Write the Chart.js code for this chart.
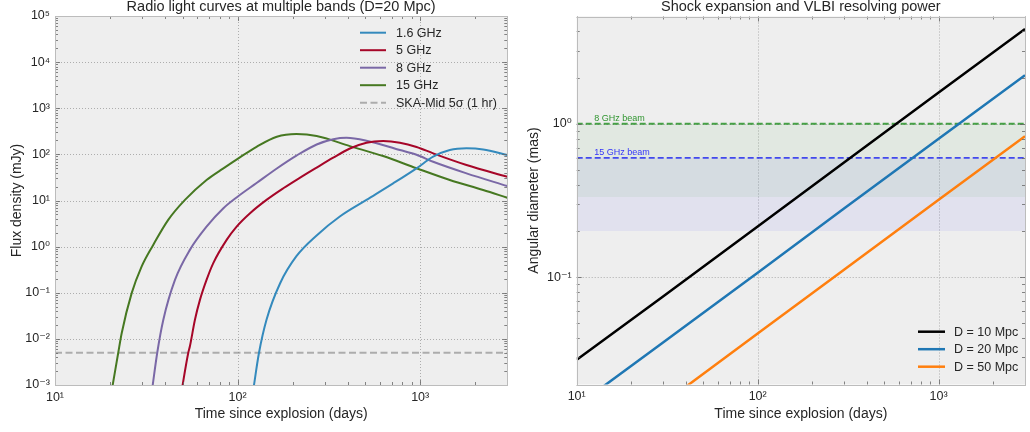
<!DOCTYPE html>
<html>
<head>
<meta charset="utf-8">
<script src="https://cdn.jsdelivr.net/npm/chart.js@4.4.0/dist/chart.umd.min.js"></script>
<style>
  body { margin: 0; background: #fff; width: 1030px; height: 432px; overflow: hidden; position: relative; }
  canvas { position: absolute; top: 0; }
  #lightCurves { left: 0; }
  #vlbi { left: 515px; }
</style>
</head>
<body>
<canvas id="lightCurves" width="515" height="432"></canvas>
<canvas id="vlbi" width="515" height="432"></canvas>
<script>
// ---- light curves (days, mJy) ----
const t16 = [120, 123, 131, 144, 171, 210, 271, 363, 508, 711, 955, 1178, 1453, 1793, 2213, 3000];
const f16 = [0.0005, 0.001, 0.005, 0.026, 0.161, 0.62, 1.75, 4.5, 10.3, 23.5, 49.8, 89, 124, 135, 128, 97];

const t5 = [49, 50, 53.7, 54.8, 58.4, 62.2, 67.6, 73.6, 87.1, 98.8, 117, 144, 178, 219, 271, 334, 412, 508, 627, 774, 955, 1178, 1793, 3000];
const f5 = [0.0006, 0.001, 0.005, 0.0069, 0.026, 0.070, 0.19, 0.44, 1.40, 2.72, 5.3, 10.3, 18.4, 31, 51.8, 85, 134, 179, 194, 179, 145, 105, 58.7, 32.7];

const t8 = [33.5, 34.3, 36.3, 39.2, 45.4, 54.8, 67.6, 83.6, 100, 127, 164, 210, 271, 334, 395, 508, 774, 955, 1178, 1793, 3000];
const f8 = [0.0005, 0.001, 0.005, 0.026, 0.19, 0.85, 2.7, 6.8, 12.1, 23.9, 49.5, 94, 164, 213, 229, 198, 124, 98, 69, 38.8, 20.6];

const t15 = [20, 20.7, 22.2, 23.2, 26.3, 29.8, 34.5, 41.7, 51.5, 67.6, 83.6, 101, 127, 164, 210, 271, 412, 627, 955, 1453, 2213, 3000];
const f15 = [0.00046, 0.001, 0.005, 0.0134, 0.098, 0.37, 1.09, 3.8, 10.3, 27.8, 49.8, 82, 146, 241, 275, 250, 151, 92, 50, 27.8, 16.9, 11.5];

const skaDays = [10, 3000];
const skaLevel = 0.005;

// ---- shock size (days, mas) ----
const sizeDays = [10, 30, 100, 300, 1000, 3000];
const d10 = [0.029, 0.075, 0.214, 0.56, 1.60, 4.15];
const d20 = [0.0145, 0.0375, 0.107, 0.28, 0.80, 2.07];
const d50 = [0.0058, 0.015, 0.043, 0.112, 0.32, 0.83];

const beam8 = 1.0, beam8Low = 0.333;
const beam15 = 0.6, beam15Low = 0.2;

// ---- ticks ----
const timeTicks = [10, 100, 1000];
const timeTickLabels = ['10¹', '10²', '10³'];
const fluxTicks = [1e-3, 1e-2, 1e-1, 1, 10, 100, 1e3, 1e4, 1e5];
const fluxTickLabels = ['10⁻³', '10⁻²', '10⁻¹', '10⁰', '10¹', '10²', '10³', '10⁴', '10⁵'];
const sizeTicks = [0.1, 1];
const sizeTickLabels = ['10⁻¹', '10⁰'];

Chart.defaults.font.family = '"Liberation Sans", Arial, "DejaVu Sans", sans-serif';
Chart.defaults.color = '#262626';
Chart.defaults.animation = false;

function isMajor(v) {
  const l = Math.log10(v);
  return Math.abs(l - Math.round(l)) < 1e-6;
}

// 1..9 x 10^n inside the axis range, used for the small tick marks
function logTicks(min, max) {
  const out = [];
  for (let e = Math.floor(Math.log10(min)); e <= Math.ceil(Math.log10(max)); e++) {
    for (let m = 1; m <= 9; m++) {
      const v = Number((m * Math.pow(10, e)).toPrecision(6));
      if (v >= min * (1 - 1e-9) && v <= max * (1 + 1e-9)) out.push({ value: v });
    }
  }
  return out;
}

function pts(xs, ys) {
  return xs.map((x, i) => ({ x: x, y: ys[i] }));
}

function logAxis(pos, min, max, majors, labels, title, size, titlePad) {
  const horiz = pos === 'bottom';
  return {
    type: 'logarithmic',
    position: pos,
    min: min,
    max: max,
    afterBuildTicks: s => { s.ticks = logTicks(min, max); },
    afterFit: s => { if (horiz) s.height = size; else s.width = size; },
    grid: { display: false, drawTicks: false },
    border: { display: false },
    ticks: {
      autoSkip: false,
      maxRotation: 0,
      padding: 5,
      font: { size: 12.5 },
      color: '#262626',
      callback: v => {
        const i = majors.findIndex(m => Math.abs(Math.log10(m) - Math.log10(v)) < 1e-6);
        return i < 0 ? '' : labels[i];
      }
    },
    title: {
      display: true,
      text: title,
      font: { size: 14 },
      color: '#262626',
      padding: horiz ? { top: 0, bottom: titlePad } : { top: titlePad, bottom: 0 }
    }
  };
}

const framePlugin = {
  id: 'frame',
  beforeDraw(chart) {
    const { ctx, chartArea: a } = chart;
    ctx.save();
    ctx.fillStyle = '#eeeeee';
    ctx.fillRect(a.left, a.top, a.right - a.left, a.bottom - a.top);
    ctx.restore();
  },
  beforeDatasetsDraw(chart) {
    const { ctx, chartArea: a, scales } = chart;
    ctx.save();
    ctx.strokeStyle = '#9c9c9c';
    ctx.lineWidth = 0.8;
    ctx.setLineDash([1, 2]);
    scales.x.ticks.forEach(t => {
      if (!isMajor(t.value)) return;
      const p = Math.round(scales.x.getPixelForValue(t.value)) + 0.5;
      if (p < a.left + 2 || p > a.right - 2) return;
      ctx.beginPath(); ctx.moveTo(p, a.top); ctx.lineTo(p, a.bottom); ctx.stroke();
    });
    scales.y.ticks.forEach(t => {
      if (!isMajor(t.value)) return;
      const p = Math.round(scales.y.getPixelForValue(t.value)) + 0.5;
      if (p < a.top + 2 || p > a.bottom - 2) return;
      ctx.beginPath(); ctx.moveTo(a.left, p); ctx.lineTo(a.right, p); ctx.stroke();
    });
    ctx.restore();
  },
  afterDatasetsDraw(chart) {
    const { ctx, chartArea: a, scales } = chart;
    ctx.save();
    ctx.strokeStyle = '#666';
    ctx.lineWidth = 0.8;
    scales.x.ticks.forEach(t => {
      const p = Math.round(scales.x.getPixelForValue(t.value)) + 0.5;
      const len = isMajor(t.value) ? 5 : 3;
      ctx.beginPath();
      ctx.moveTo(p, a.bottom); ctx.lineTo(p, a.bottom - len);
      ctx.moveTo(p, a.top); ctx.lineTo(p, a.top + len);
      ctx.stroke();
    });
    scales.y.ticks.forEach(t => {
      const p = Math.round(scales.y.getPixelForValue(t.value)) + 0.5;
      const len = isMajor(t.value) ? 5 : 3;
      ctx.beginPath();
      ctx.moveTo(a.left, p); ctx.lineTo(a.left + len, p);
      ctx.moveTo(a.right, p); ctx.lineTo(a.right - len, p);
      ctx.stroke();
    });
    ctx.strokeStyle = '#bcbcbc';
    ctx.lineWidth = 1;
    ctx.strokeRect(Math.round(a.left) + 0.5, Math.round(a.top) + 0.5,
      Math.round(a.right - a.left), Math.round(a.bottom - a.top));
    ctx.restore();
  },
  afterDraw(chart, args, opts) {
    const { ctx, chartArea: a, scales } = chart;
    ctx.save();
    // title
    ctx.fillStyle = '#262626';
    ctx.font = '14.5px "Liberation Sans", Arial, sans-serif';
    ctx.textAlign = 'center';
    ctx.textBaseline = 'middle';
    ctx.fillText(opts.title, (a.left + a.right) / 2, 7);
    // annotations
    (opts.notes || []).forEach(n => {
      ctx.font = '9px "Liberation Sans", Arial, sans-serif';
      ctx.fillStyle = n.color;
      ctx.textAlign = 'left';
      ctx.textBaseline = 'alphabetic';
      ctx.fillText(n.text, scales.x.getPixelForValue(n.x), scales.y.getPixelForValue(n.y) - 3);
    });
    // legend
    const lg = opts.legend;
    ctx.font = '12.5px "Liberation Sans", Arial, sans-serif';
    ctx.textAlign = 'left';
    ctx.textBaseline = 'middle';
    lg.items.forEach((it, i) => {
      const y = lg.y + i * lg.step;
      ctx.strokeStyle = it.color;
      ctx.lineWidth = it.width;
      ctx.setLineDash(it.dash || []);
      ctx.beginPath(); ctx.moveTo(lg.x1, y); ctx.lineTo(lg.x2, y); ctx.stroke();
      ctx.setLineDash([]);
      ctx.fillStyle = '#262626';
      ctx.fillText(it.label, lg.tx, y + 0.5);
    });
    ctx.restore();
  }
};

// ---- left: light curves ----
const bandColors = ['#348ABD', '#A60628', '#7A68A6', '#467821'];
const bandLabels = ['1.6 GHz', '5 GHz', '8 GHz', '15 GHz'];
const bandSeries = [[t16, f16], [t5, f5], [t8, f8], [t15, f15]];

const leftSets = bandSeries.map((s, i) => ({
  label: bandLabels[i],
  data: pts(s[0], s[1]),
  borderColor: bandColors[i],
  borderWidth: 2,
  pointRadius: 0,
  cubicInterpolationMode: 'monotone',
  fill: false,
  clip: 0
}));
leftSets.push({
  label: 'SKA-Mid 5σ (1 hr)',
  data: skaDays.map(d => ({ x: d, y: skaLevel })),
  borderColor: 'rgba(128,128,128,0.6)',
  borderWidth: 2,
  borderDash: [7, 3.5],
  pointRadius: 0,
  fill: false,
  clip: 0
});

new Chart(document.getElementById('lightCurves'), {
  type: 'line',
  data: { datasets: leftSets },
  plugins: [framePlugin],
  options: {
    responsive: false,
    layout: { padding: { top: 16, right: 7.7, left: 0, bottom: 0 } },
    scales: {
      x: logAxis('bottom', 10, 3000, timeTicks, timeTickLabels, 'Time since explosion (days)', 47, 9),
      y: logAxis('left', 1e-3, 1e5, fluxTicks, fluxTickLabels, 'Flux density (mJy)', 55, 9)
    },
    plugins: {
      legend: { display: false },
      tooltip: { enabled: false },
      frame: {
        title: 'Radio light curves at multiple bands (D=20 Mpc)',
        legend: {
          x1: 360, x2: 386, tx: 396, y: 32.7, step: 17.5,
          items: bandLabels.map((l, i) => ({ label: l, color: bandColors[i], width: 2 }))
            .concat([{ label: 'SKA-Mid 5σ (1 hr)', color: 'rgba(128,128,128,0.6)', width: 2, dash: [7, 3.5] }])
        }
      }
    }
  }
});

// ---- right: angular size ----
const distLabels = ['D = 10 Mpc', 'D = 20 Mpc', 'D = 50 Mpc'];
const distColors = ['#000000', '#1f77b4', '#ff7f0e'];
const distSeries = [d10, d20, d50];

const rightSets = distSeries.map((s, i) => ({
  label: distLabels[i],
  data: pts(sizeDays, s),
  borderColor: distColors[i],
  borderWidth: 2.5,
  pointRadius: 0,
  fill: false,
  clip: 0
}));
function flat(v) { return [10, 3000].map(d => ({ x: d, y: v })); }
rightSets.push(
  { label: '8 GHz beam', data: flat(beam8), borderColor: 'rgba(0,128,0,0.7)', borderWidth: 1.8, borderDash: [6, 3],
    pointRadius: 0, fill: '+1', backgroundColor: 'rgba(0,128,0,0.05)', clip: 0 },
  { label: '', data: flat(beam8Low), borderWidth: 0, borderColor: 'rgba(0,0,0,0)', pointRadius: 0, fill: false, clip: 0 },
  { label: '15 GHz beam', data: flat(beam15), borderColor: 'rgba(0,0,255,0.7)', borderWidth: 1.8, borderDash: [6, 3],
    pointRadius: 0, fill: '+1', backgroundColor: 'rgba(0,0,255,0.05)', clip: 0 },
  { label: '', data: flat(beam15Low), borderWidth: 0, borderColor: 'rgba(0,0,0,0)', pointRadius: 0, fill: false, clip: 0 }
);

new Chart(document.getElementById('vlbi'), {
  type: 'line',
  data: { datasets: rightSets },
  plugins: [framePlugin],
  options: {
    responsive: false,
    layout: { padding: { top: 16.5, right: 1.3, left: 0, bottom: 0 } },
    scales: {
      x: logAxis('bottom', 10, 3000, timeTicks, timeTickLabels, 'Time since explosion (days)', 47.5, 9),
      y: logAxis('left', 0.02, 5, sizeTicks, sizeTickLabels, 'Angular diameter (mas)', 61.7, 11)
    },
    plugins: {
      legend: { display: false },
      tooltip: { enabled: false },
      frame: {
        title: 'Shock expansion and VLBI resolving power',
        notes: [
          { text: '8 GHz beam', x: 12.5, y: beam8, color: 'rgba(0,128,0,0.8)' },
          { text: '15 GHz beam', x: 12.5, y: beam15, color: 'rgba(0,0,255,0.8)' }
        ],
        legend: {
          x1: 403, x2: 430, tx: 439, y: 331.7, step: 17.5,
          items: distLabels.map((l, i) => ({ label: l, color: distColors[i], width: 2.5 }))
        }
      }
    }
  }
});
</script>
</body>
</html>
